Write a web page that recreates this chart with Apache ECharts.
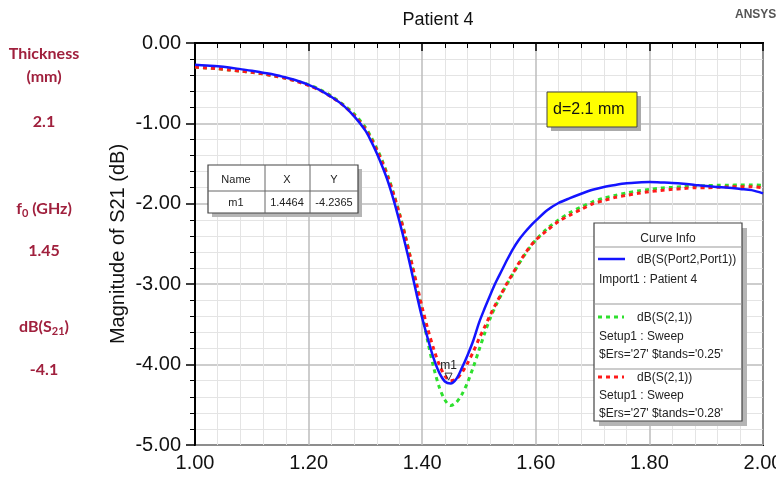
<!DOCTYPE html>
<html><head><meta charset="utf-8">
<script src="https://cdn.jsdelivr.net/npm/echarts@6/dist/echarts.min.js"></script>
<style>html,body{margin:0;padding:0;background:#fff}#c{width:776px;height:482px}</style>
</head><body><div id="c"></div>
<script>
// ---- data ----
const freq = [1.00,1.02,1.04,1.06,1.08,1.10,1.12,1.14,1.16,1.18,1.20,1.22,1.24,1.26,1.28,
  1.30,1.31,1.32,1.33,1.34,1.35,1.36,1.37,1.38,1.39,1.40,1.41,1.42,1.43,1.44,1.45,1.46,1.47,1.48,1.49,1.50,1.51,1.52,1.53,1.54,1.55,1.56,1.57,1.58,1.59,1.60,
  1.62,1.64,1.66,1.68,1.70,1.72,1.74,1.76,1.78,1.80,1.82,1.84,1.86,1.88,1.90,1.92,1.94,1.96,1.98,2.00];
const measured = [-0.27,-0.28,-0.29,-0.305,-0.325,-0.345,-0.37,-0.395,-0.43,-0.47,-0.52,-0.585,-0.67,-0.77,-0.91,
  -1.09,-1.22,-1.37,-1.54,-1.73,-1.96,-2.22,-2.50,-2.80,-3.12,-3.42,-3.68,-3.92,-4.10,-4.21,-4.235,-4.18,-4.04,-3.88,-3.70,-3.48,-3.30,-3.13,-2.97,-2.83,-2.69,-2.56,-2.45,-2.36,-2.28,-2.21,
  -2.08,-1.99,-1.93,-1.875,-1.825,-1.79,-1.765,-1.745,-1.735,-1.73,-1.735,-1.74,-1.75,-1.765,-1.78,-1.79,-1.80,-1.815,-1.83,-1.87];
const sim025 = [-0.30,-0.31,-0.32,-0.335,-0.35,-0.365,-0.385,-0.41,-0.44,-0.475,-0.52,-0.58,-0.66,-0.76,-0.88,
  -1.05,-1.17,-1.31,-1.47,-1.66,-1.88,-2.12,-2.39,-2.69,-3.03,-3.38,-3.72,-4.03,-4.28,-4.44,-4.51,-4.47,-4.37,-4.22,-4.03,-3.82,-3.61,-3.42,-3.26,-3.12,-2.99,-2.87,-2.75,-2.64,-2.54,-2.45,
  -2.31,-2.20,-2.11,-2.04,-1.975,-1.93,-1.895,-1.865,-1.84,-1.82,-1.805,-1.795,-1.785,-1.78,-1.775,-1.77,-1.77,-1.765,-1.765,-1.77];
const sim028 = [-0.30,-0.31,-0.32,-0.335,-0.35,-0.365,-0.385,-0.41,-0.44,-0.48,-0.53,-0.59,-0.67,-0.77,-0.90,
  -1.07,-1.19,-1.33,-1.49,-1.68,-1.89,-2.13,-2.40,-2.69,-2.99,-3.29,-3.56,-3.80,-4.00,-4.14,-4.20,-4.18,-4.10,-3.98,-3.84,-3.68,-3.53,-3.38,-3.24,-3.11,-2.98,-2.86,-2.74,-2.63,-2.53,-2.45,
  -2.33,-2.22,-2.14,-2.07,-2.00,-1.96,-1.92,-1.895,-1.87,-1.85,-1.835,-1.82,-1.81,-1.80,-1.80,-1.795,-1.79,-1.787,-1.787,-1.80];
const markerName = 'm1';
const markerX = 1.4464;
const markerY = -4.2365;
const xTicks = {min: 1.0, max: 2.0, interval: 0.2};
const yTicks = {min: -5, max: 0, interval: 1};
const titleText = 'Patient 4';
const sideLabels = ['Thickness', '(mm)', '2.1', 'f0 (GHz)', '1.45', 'dB(S21)', '-4.1'];

// ---- chart ----
const FONT = '"Liberation Sans", Arial, sans-serif';
const pairs = ys => freq.map((f, i) => [f, ys[i]]);
const chart = echarts.init(document.getElementById('c'), null, {renderer: 'canvas'});
const side = '#a0203d';
const tcol = '#222';
function txt(x, y, s, opt) {
  return {type: 'text', x: x, y: y, z: 30, style: Object.assign({text: s, fill: tcol, font: '12px ' + FONT, textAlign: 'left', textVerticalAlign: 'middle'}, opt || {})};
}
function rect(x, y, w, h, style, z) {
  return {type: 'rect', shape: {x: x, y: y, width: w, height: h}, style: style, z: z || 10};
}
function line(x1, y1, x2, y2, style, z) {
  return {type: 'line', shape: {x1: x1, y1: y1, x2: x2, y2: y2}, style: style, z: z || 11};
}
const sideFont = 'bold 16px Lato, "Open Sans", sans-serif';
const sideSub = 'bold 11px Lato, "Open Sans", sans-serif';
function sideTxt(y, s) {
  return {type: 'text', x: 44, y: y, z: 30, style: {text: s, fill: side, font: sideFont, textAlign: 'center', textVerticalAlign: 'middle'}};
}
function sideRich(y, s) {
  return {type: 'text', x: 44, y: y, z: 30, style: {rich: {a: {fill: side, font: sideFont}, s: {fill: side, font: sideSub, padding: [8, 0, 0, 0]}}, text: s, textAlign: 'center', textVerticalAlign: 'middle'}};
}
const graphics = [
  // left panel
  sideTxt(54, sideLabels[0]),
  sideTxt(77, sideLabels[1]),
  sideTxt(122, sideLabels[2]),
  sideRich(209, '{a|f}{s|0}{a| (GHz)}'),
  sideTxt(251, sideLabels[4]),
  sideRich(327, '{a|dB(S}{s|21}{a|)}'),
  sideTxt(370, sideLabels[6]),
  // ANSYS logo text
  txt(735, 15, 'ANSYS', {fill: '#555', font: 'bold 12px ' + FONT}),
  // d = 2.1 mm box
  rect(551, 96, 90, 35, {fill: '#aaa'}, 20),
  rect(547, 92, 90, 35, {fill: '#ffff00', stroke: '#444', lineWidth: 1}, 21),
  txt(553, 110, 'd=2.1 mm', {font: '16px ' + FONT, fill: '#111'}),
  // marker table
  rect(212, 169, 150, 48, {fill: '#b5b5b5'}, 20),
  rect(208, 165, 150, 48, {fill: '#fff', stroke: '#444', lineWidth: 1.2}, 21),
  line(208, 191, 358, 191, {stroke: '#666', lineWidth: 1}, 22),
  line(265, 165, 265, 213, {stroke: '#666', lineWidth: 1}, 22),
  line(310, 165, 310, 213, {stroke: '#666', lineWidth: 1}, 22),
  txt(236, 180, 'Name', {textAlign: 'center', font: '11px ' + FONT}),
  txt(287, 180, 'X', {textAlign: 'center', font: '11px ' + FONT}),
  txt(334, 180, 'Y', {textAlign: 'center', font: '11px ' + FONT}),
  txt(236, 203, markerName, {textAlign: 'center', font: '11px ' + FONT}),
  txt(287, 203, markerX.toFixed(4), {textAlign: 'center', font: '11px ' + FONT}),
  txt(334, 203, markerY.toFixed(4), {textAlign: 'center', font: '11px ' + FONT}),
  // curve info legend box
  rect(599, 228, 148, 198, {fill: '#b5b5b5'}, 20),
  rect(594, 223, 148, 198, {fill: '#fff', stroke: '#444', lineWidth: 1.2}, 21),
  txt(668, 239, 'Curve Info', {textAlign: 'center'}),
  line(594, 247, 742, 247, {stroke: '#999', lineWidth: 1}, 22),
  line(598, 259, 625, 259, {stroke: '#1414ff', lineWidth: 2.5}, 22),
  txt(637, 260, 'dB(S(Port2,Port1))'),
  txt(599, 280, 'Import1 : Patient 4'),
  line(594, 304, 742, 304, {stroke: '#999', lineWidth: 1}, 22),
  line(598, 317, 624, 317, {stroke: '#2ee02e', lineWidth: 3, lineDash: [4, 4]}, 22),
  txt(637, 318, 'dB(S(2,1))'),
  txt(599, 337, 'Setup1 : Sweep'),
  txt(599, 355, "$Ers='27' $tands='0.25'"),
  line(594, 369, 742, 369, {stroke: '#999', lineWidth: 1}, 22),
  line(598, 377, 624, 377, {stroke: '#ff1a1a', lineWidth: 3, lineDash: [4, 4]}, 22),
  txt(637, 378, 'dB(S(2,1))'),
  txt(599, 396, 'Setup1 : Sweep'),
  txt(599, 414, "$Ers='27' $tands='0.28'")
];

const option = {
  animation: false,
  backgroundColor: '#fff',
  title: {text: titleText, left: 433, top: 6, textAlign: 'center',
    textStyle: {fontFamily: FONT, fontSize: 18, fontWeight: 'normal', color: '#111'}},
  grid: {left: 195, right: 13, top: 43, bottom: 37, outerBoundsMode: 'none', containLabel: false,
    show: true, borderColor: '#000', borderWidth: 2, backgroundColor: 'transparent'},
  xAxis: {type: 'value', min: xTicks.min, max: xTicks.max, interval: xTicks.interval,
    axisLine: {show: true, lineStyle: {color: '#000', width: 2}},
    axisTick: {show: true, length: 8, lineStyle: {color: '#000', width: 1.5}},
    minorTick: {show: true, splitNumber: 5, length: 5, lineStyle: {color: '#000', width: 1}},
    splitLine: {show: true, lineStyle: {color: '#bdbdbd', width: 1.5}},
    minorSplitLine: {show: true, lineStyle: {color: '#e4e4e4', width: 1}},
    axisLabel: {formatter: v => v.toFixed(2), fontFamily: FONT, fontSize: 20, color: '#111', margin: 8, showMaxLabel: true}},
  yAxis: {type: 'value', min: yTicks.min, max: yTicks.max, interval: yTicks.interval,
    name: 'Magnitude of S21 (dB)', nameLocation: 'middle', nameGap: 67, nameMoveOverlap: false,
    nameTextStyle: {fontFamily: FONT, fontSize: 20, color: '#111'},
    axisLine: {show: true, lineStyle: {color: '#000', width: 2}},
    axisTick: {show: true, length: 9, lineStyle: {color: '#000', width: 1.5}},
    minorTick: {show: true, splitNumber: 5, length: 5, lineStyle: {color: '#000', width: 1}},
    splitLine: {show: true, lineStyle: {color: '#bdbdbd', width: 1.5}},
    minorSplitLine: {show: true, lineStyle: {color: '#e4e4e4', width: 1}},
    axisLabel: {formatter: v => v.toFixed(2), fontFamily: FONT, fontSize: 20, color: '#111', margin: 14}},
  series: [
    {name: 'sim025', type: 'line', data: pairs(sim025), smooth: 0.3, showSymbol: false, z: 3,
      lineStyle: {color: '#2ee02e', width: 3, type: [4, 4]}},
    {name: 'sim028', type: 'line', data: pairs(sim028), smooth: 0.3, showSymbol: false, z: 4,
      lineStyle: {color: '#ff1a1a', width: 3, type: [4, 4]}},
    {name: 'measured', type: 'line', data: pairs(measured), smooth: 0.3, showSymbol: false, z: 5,
      lineStyle: {color: '#1414ff', width: 2.5},
      markPoint: {symbol: 'triangle', symbolRotate: 180, symbolSize: 7, symbolOffset: [0, -7],
        itemStyle: {color: 'rgba(0,0,0,0)', borderColor: '#333', borderWidth: 1},
        label: {show: true, position: 'top', distance: 1, formatter: markerName, color: '#222', fontFamily: FONT, fontSize: 12},
        data: [{coord: [markerX, markerY]}]}}
  ],
  graphic: graphics
};
chart.setOption(option);
</script></body></html>
